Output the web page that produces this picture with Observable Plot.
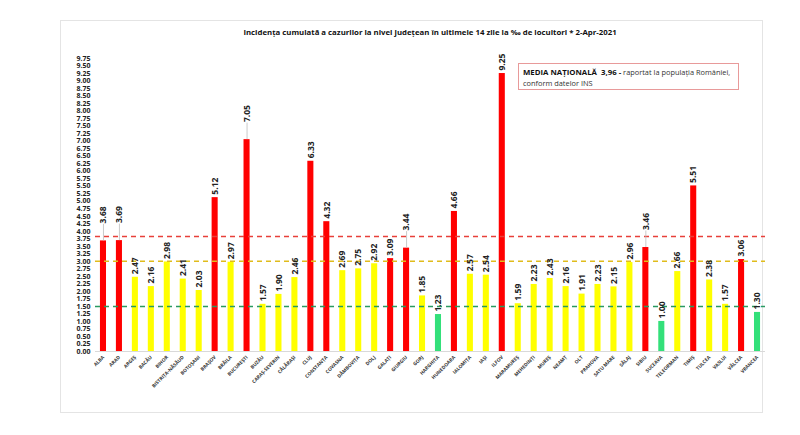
<!DOCTYPE html>
<html>
<head>
<meta charset="utf-8">
<script src="https://cdn.jsdelivr.net/npm/d3@7"></script>
<script src="https://cdn.jsdelivr.net/npm/@observablehq/plot@0.6"></script>
<style>
  body { margin: 0; background: #fff; font-family: "Open Sans", sans-serif; }
  #wrap { position: relative; width: 800px; height: 435px; overflow: hidden; }
  #frame { position: absolute; left: 60px; top: 20px; width: 703px; height: 393px; border: 1px solid #e4e4e4; box-sizing: border-box; }
  #title { position: absolute; left: 0; width: 860px; top: 27px; text-align: center; font-size: 7.8px; font-weight: 700; color: #111; white-space: nowrap; }
  #legend { position: absolute; left: 518px; top: 63px; width: 221px; height: 27px; box-sizing: border-box; border: 1px solid #e89a9a; padding: 3px 4px; font-size: 7.4px; line-height: 10.5px; color: #333; white-space: nowrap; }
  #legend b { color: #111; font-size: 7.8px; }
  #chart { position: absolute; left: 0; top: 0; }
</style>
</head>
<body>
<div id="wrap">
  <div id="frame"></div>
  <div id="chart"></div>
  <div id="title">Incidența cumulată a cazurilor la nivel județean în ultimele 14 zile la ‰ de locuitori * 2-Apr-2021</div>
  <div id="legend"><b>MEDIA NAȚIONALĂ&nbsp; 3,96 -</b> raportat la populația României,<br>conform datelor INS</div>
</div>
<script>
const counties = ["ALBA","ARAD","ARGEȘ","BACĂU","BIHOR","BISTRIȚA-NĂSĂUD","BOTOȘANI","BRAȘOV","BRĂILA","BUCUREȘTI",
  "BUZĂU","CARAȘ-SEVERIN","CĂLĂRAȘI","CLUJ","CONSTANȚA","COVASNA","DÂMBOVIȚA","DOLJ","GALAȚI","GIURGIU",
  "GORJ","HARGHITA","HUNEDOARA","IALOMIȚA","IAȘI","ILFOV","MARAMUREȘ","MEHEDINȚI","MUREȘ","NEAMȚ",
  "OLT","PRAHOVA","SATU MARE","SĂLAJ","SIBIU","SUCEAVA","TELEORMAN","TIMIȘ","TULCEA","VASLUI","VÂLCEA","VRANCEA"];
const values = [3.68,3.69,2.47,2.16,2.98,2.41,2.03,5.12,2.97,7.05,
  1.57,1.90,2.46,6.33,4.32,2.69,2.75,2.92,3.09,3.44,
  1.85,1.23,4.66,2.57,2.54,9.25,1.59,2.23,2.43,2.16,
  1.91,2.23,2.15,2.96,3.46,1.00,2.66,5.51,2.38,1.57,3.06,1.30];
const leaderCounties = ["ALBA","ARAD","BUCUREȘTI","GIURGIU","SIBIU"];
const nationalLine = 3.83;
const upperLine = 3.0;
const lowerLine = 1.5;
const yTicks = [0,0.25,0.5,0.75,1,1.25,1.5,1.75,2,2.25,2.5,2.75,3,3.25,3.5,3.75,4,4.25,4.5,4.75,
  5,5.25,5.5,5.75,6,6.25,6.5,6.75,7,7.25,7.5,7.75,8,8.25,8.5,8.75,9,9.25,9.5,9.75];

const data = counties.map((c, i) => ({
  county: c,
  value: values[i],
  level: values[i] > upperLine ? "high" : values[i] >= lowerLine ? "mid" : "low",
  leader: leaderCounties.includes(c)
}));
const normal = data.filter(d => !d.leader);
const leaders = data.filter(d => d.leader);
const lift = 0.55;

const chart = Plot.plot({
  width: 800,
  height: 435,
  marginLeft: 95,
  marginRight: 35,
  marginTop: 58,
  marginBottom: 84,
  style: { background: "transparent", fontFamily: "Open Sans, sans-serif", overflow: "visible" },
  x: { domain: counties, paddingInner: 0.62, paddingOuter: 0.31, label: null },
  y: { domain: [0, 9.75], label: null },
  color: { domain: ["high", "mid", "low"], range: ["#ff0000", "#ffff00", "#33e07a"] },
  marks: [
    Plot.axisY({ ticks: yTicks, tickFormat: d => d.toFixed(2), tickSize: 0, tickPadding: 5, fontSize: 7, fontWeight: 700, fill: "#222", label: null }),
    Plot.axisX({ tickRotate: -45, tickSize: 0, tickPadding: 5, fontSize: 4.8, fontWeight: 700, fill: "#333", label: null }),
    Plot.ruleY([0], { stroke: "#d9d9d9" }),
    Plot.barY(data, { x: "county", y: "value", fill: "level" }),
    Plot.ruleY([nationalLine], { stroke: "#e8403a", strokeWidth: 1.5, strokeDasharray: "5,4" }),
    Plot.ruleY([upperLine], { stroke: "#e0bc1c", strokeWidth: 1.5, strokeDasharray: "5,4" }),
    Plot.ruleY([lowerLine], { stroke: "#2a9a60", strokeWidth: 1.5, strokeDasharray: "5,4" }),
    Plot.ruleX(leaders, { x: "county", y1: "value", y2: d => d.value + lift, stroke: "#bdbdbd", strokeWidth: 0.8 }),
    Plot.text(normal, { x: "county", y: "value", text: d => d.value.toFixed(2), rotate: -90, textAnchor: "start", dy: -3, fontSize: 8.5, fontWeight: 700, fill: "#222" }),
    Plot.text(leaders, { x: "county", y: d => d.value + lift, text: d => d.value.toFixed(2), rotate: -90, textAnchor: "start", dy: -1, fontSize: 8.5, fontWeight: 700, fill: "#222" })
  ]
});
document.getElementById("chart").appendChild(chart);
</script>
</body>
</html>
